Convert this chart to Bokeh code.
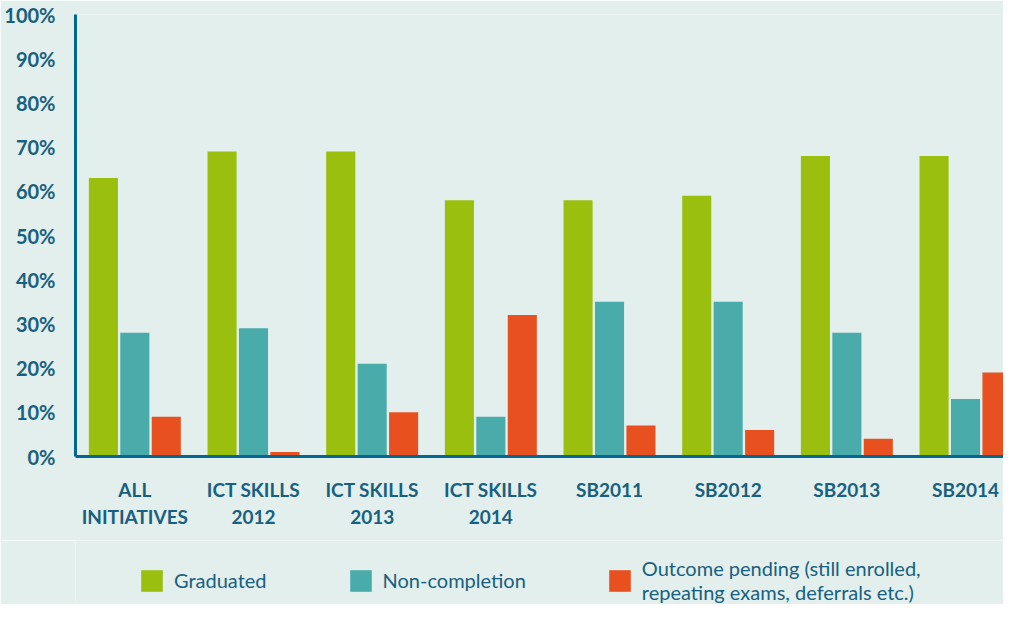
import numpy as np
from bokeh.plotting import figure
from bokeh.layouts import column
from bokeh.models import (ColumnDataSource, Range1d, FixedTicker, PrintfTickFormatter,
                          Legend, LegendItem)
from bokeh.transform import dodge
from bokeh.embed import file_html
from bokeh.resources import INLINE

categories = ["ALL\nINITIATIVES", "ICT SKILLS\n2012", "ICT SKILLS\n2013", "ICT SKILLS\n2014",
              "SB2011", "SB2012", "SB2013", "SB2014"]
graduated = [63, 69, 69, 58, 58, 59, 68, 68]
non_completion = [28, 29, 21, 9, 35, 35, 28, 13]
pending = [9, 1, 10, 32, 7, 6, 4, 19]
series_names = ["Graduated", "Non-completion",
                "Outcome pending (still enrolled,\nrepeating exams, deferrals etc.)"]
y_ticks = list(range(0, 101, 10))

BG = "#E2EFED"
TXT = "#17607F"
AXIS = "#036891"
COLORS = ["#9ABF0E", "#49ABAA", "#E8501F"]
FONT = "Lato"

xs = np.arange(len(categories)) + 0.5
src = ColumnDataSource(dict(x=xs, g=graduated, n=non_completion, o=pending))
cols = ["g", "n", "o"]

fig = figure(width=1003, height=540, output_backend="svg", toolbar_location=None,
             x_range=Range1d(0, 7.82), y_range=Range1d(0, 100),
             min_border_left=75, min_border_right=0, min_border_top=14, min_border_bottom=84)
fig.background_fill_color = BG
fig.border_fill_color = BG
fig.outline_line_color = None
fig.xgrid.visible = False
fig.ygrid.visible = False

w = 0.245
off = 0.265
offsets = [-off, 0, off]
for col, c, o in zip(cols, COLORS, offsets):
    fig.vbar(x=dodge("x", o), top=col, width=w, source=src, color=c, line_color=None)

for ax in (fig.xaxis[0], fig.yaxis[0]):
    ax.axis_line_color = AXIS
    ax.axis_line_width = 3
    ax.major_tick_line_color = None
    ax.minor_tick_line_color = None
    ax.major_label_text_font = FONT
    ax.major_label_text_font_style = "bold"
    ax.major_label_text_color = TXT

fig.yaxis.ticker = FixedTicker(ticks=y_ticks)
fig.yaxis.formatter = PrintfTickFormatter(format="%d%%")
fig.yaxis.major_label_standoff = 14
fig.yaxis.major_label_text_font_size = "20px"

fig.xaxis.ticker = FixedTicker(ticks=list(xs))
fig.xaxis.major_label_overrides = {float(x): c for x, c in zip(xs, categories)}
fig.xaxis.major_label_standoff = 15
fig.xaxis.major_label_text_font_size = "19px"
fig.xaxis.major_label_text_line_height = 1.2

# legend strip below the chart (its bars sit outside the visible y range)
leg = figure(width=1003, height=64, output_backend="svg", toolbar_location=None,
             x_range=Range1d(0, 1), y_range=Range1d(200, 201),
             x_axis_type=None, y_axis_type=None,
             min_border_left=75, min_border_right=0, min_border_top=0, min_border_bottom=0)
leg.background_fill_color = BG
leg.border_fill_color = BG
leg.outline_line_color = None
leg.xgrid.visible = False
leg.ygrid.visible = False
lr = [leg.vbar(x="x", top=col, width=w, source=src, color=c, line_color=None)
      for col, c in zip(cols, COLORS)]

legend = Legend(items=[LegendItem(label=n, renderers=[r]) for n, r in zip(series_names, lr)],
                orientation="horizontal", location=(63, 0),
                glyph_width=27, glyph_height=27, label_standoff=9, spacing=80,
                padding=0, margin=0, border_line_color=None, background_fill_alpha=0,
                label_text_font=FONT, label_text_font_size="20px", label_text_color=TXT,
                label_text_line_height=1.1)
leg.add_layout(legend, "center")

p = column(fig, leg, spacing=0)
open("out.html", "w").write(file_html(p, INLINE))
